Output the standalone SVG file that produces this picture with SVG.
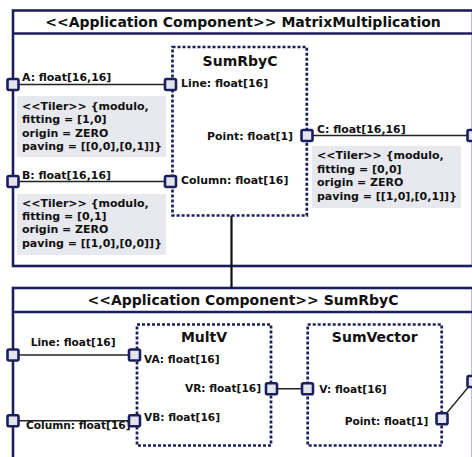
<svg xmlns="http://www.w3.org/2000/svg" width="472" height="457" viewBox="0 0 472 457">
<style>
.frame{fill:#ffffff;stroke:#1c1f5e;stroke-width:2.6}
.hdr{fill:none;stroke:#1c1f5e;stroke-width:2.6}
.comp{fill:#ffffff;stroke:#1c1f5e;stroke-width:2.7;stroke-dasharray:3 2}
.port{fill:#e4e4ef;stroke:#1c1f5e;stroke-width:2.6}
.note{fill:#e8e8ef;stroke:none}
.wire{fill:none;stroke:#222;stroke-width:1.4}
.deleg{fill:none;stroke:#111;stroke-width:2.2}
text{font-family:"DejaVu Sans",sans-serif;font-weight:bold;fill:#111}
.title{font-size:14px;text-anchor:middle}
.lbl{font-size:10.6px}
.lbt{font-size:10.9px}
.nt{font-size:11px}
.end{text-anchor:end}
</style>

<g id="frame-matrix">
<rect class="frame" x="13" y="10.5" width="460" height="255.5"/>
<line class="hdr" x1="13" y1="33.5" x2="473" y2="33.5"/>
<text class="title" x="243" y="27">&lt;&lt;Application Component&gt;&gt; MatrixMultiplication</text>
</g>

<g id="frame-sumrbyc">
<rect class="frame" x="13" y="288" width="460" height="190"/>
<line class="hdr" x1="13" y1="312" x2="473" y2="312"/>
<text class="title" x="243" y="305">&lt;&lt;Application Component&gt;&gt; SumRbyC</text>
</g>

<g id="connectors">
<line class="wire" x1="13" y1="84.5" x2="170.5" y2="84.5"/>
<line class="wire" x1="13" y1="181.5" x2="170.5" y2="181.5"/>
<line class="wire" x1="307" y1="135.5" x2="473" y2="135.5"/>
<line class="deleg" x1="231.5" y1="215" x2="231.5" y2="288"/>
<line class="wire" x1="13" y1="355" x2="134.5" y2="355"/>
<line class="wire" x1="13" y1="420.7" x2="134.5" y2="420.7"/>
<line class="wire" x1="271.5" y1="388.7" x2="307.5" y2="388.7"/>
<line class="wire" x1="442" y1="418.7" x2="473" y2="381.5"/>
</g>

<g id="sumrbyc-part">
<rect class="comp" x="172.5" y="47" width="134.3" height="168.5"/>
<text class="title" x="240" y="66">SumRbyC</text>
</g>

<g id="multv">
<rect class="comp" x="137" y="324.5" width="134" height="121"/>
<text class="title" x="204" y="342">MultV</text>
</g>

<g id="sumvector">
<rect class="comp" x="307.7" y="324.5" width="134" height="121"/>
<text class="title" x="374.7" y="342">SumVector</text>
</g>

<g id="note-a">
<rect class="note" x="17" y="96" width="149" height="61"/>
<text class="nt" x="22" y="110">&lt;&lt;Tiler&gt;&gt; {modulo,</text>
<text class="nt" x="22" y="123.4">fitting = [1,0]</text>
<text class="nt" x="22" y="136.8">origin = ZERO</text>
<text class="nt" x="22" y="150.2">paving = [[0,0],[0,1]]}</text>
</g>

<g id="note-b">
<rect class="note" x="17" y="194" width="149" height="61"/>
<text class="nt" x="22" y="206.5">&lt;&lt;Tiler&gt;&gt; {modulo,</text>
<text class="nt" x="22" y="219.9">fitting = [0,1]</text>
<text class="nt" x="22" y="233.3">origin = ZERO</text>
<text class="nt" x="22" y="246.7">paving = [[1,0],[0,0]]}</text>
</g>

<g id="note-c">
<rect class="note" x="312" y="146" width="149" height="62"/>
<text class="nt" x="317" y="159.3">&lt;&lt;Tiler&gt;&gt; {modulo,</text>
<text class="nt" x="317" y="172.8">fitting = [0,0]</text>
<text class="nt" x="317" y="186.3">origin = ZERO</text>
<text class="nt" x="317" y="199.8">paving = [[1,0],[0,1]]}</text>
</g>

<g id="port-a">
<rect class="port" x="7.5" y="79" width="11" height="11" rx="1.5"/>
<text class="lbt" x="22" y="81">A: float[16,16]</text>
</g>
<g id="port-b">
<rect class="port" x="7.5" y="176" width="11" height="11" rx="1.5"/>
<text class="lbt" x="22" y="178.7">B: float[16,16]</text>
</g>
<g id="port-line">
<rect class="port" x="165" y="79" width="11" height="11" rx="1.5"/>
<text class="lbt" x="181" y="87">Line: float[16]</text>
</g>
<g id="port-column">
<rect class="port" x="165" y="176" width="11" height="11" rx="1.5"/>
<text class="lbt" x="181" y="184.3">Column: float[16]</text>
</g>
<g id="port-point">
<rect class="port" x="301.5" y="130" width="11" height="11" rx="1.5"/>
<text class="lbt end" x="293" y="140">Point: float[1]</text>
</g>
<g id="port-c">
<rect class="port" x="467.5" y="130" width="11" height="11" rx="1.5"/>
<text class="lbt" x="317" y="133">C: float[16,16]</text>
</g>

<g id="port-line-in">
<rect class="port" x="7.5" y="349.5" width="11" height="11" rx="1.5"/>
<text class="lbl" x="30.7" y="346">Line: float[16]</text>
</g>
<g id="port-column-in">
<rect class="port" x="7.5" y="415.2" width="11" height="11" rx="1.5"/>
<text class="lbl" x="26" y="429">Column: float[16]</text>
</g>
<g id="port-va">
<rect class="port" x="129" y="349.5" width="11" height="11" rx="1.5"/>
<text class="lbl" x="144" y="363">VA: float[16]</text>
</g>
<g id="port-vb">
<rect class="port" x="129" y="415.2" width="11" height="11" rx="1.5"/>
<text class="lbl" x="144" y="421">VB: float[16]</text>
</g>
<g id="port-vr">
<rect class="port" x="266" y="383.2" width="11" height="11" rx="1.5"/>
<text class="lbl end" x="261" y="392.3">VR: float[16]</text>
</g>
<g id="port-v">
<rect class="port" x="302" y="383.2" width="11" height="11" rx="1.5"/>
<text class="lbl" x="319.3" y="392.5">V: float[16]</text>
</g>
<g id="port-point-sv">
<rect class="port" x="436.5" y="413.2" width="11" height="11" rx="1.5"/>
<text class="lbl end" x="428.3" y="425.3">Point: float[1]</text>
</g>
<g id="port-point-out">
<rect class="port" x="467.5" y="376" width="11" height="11" rx="1.5"/>
</g>
</svg>
